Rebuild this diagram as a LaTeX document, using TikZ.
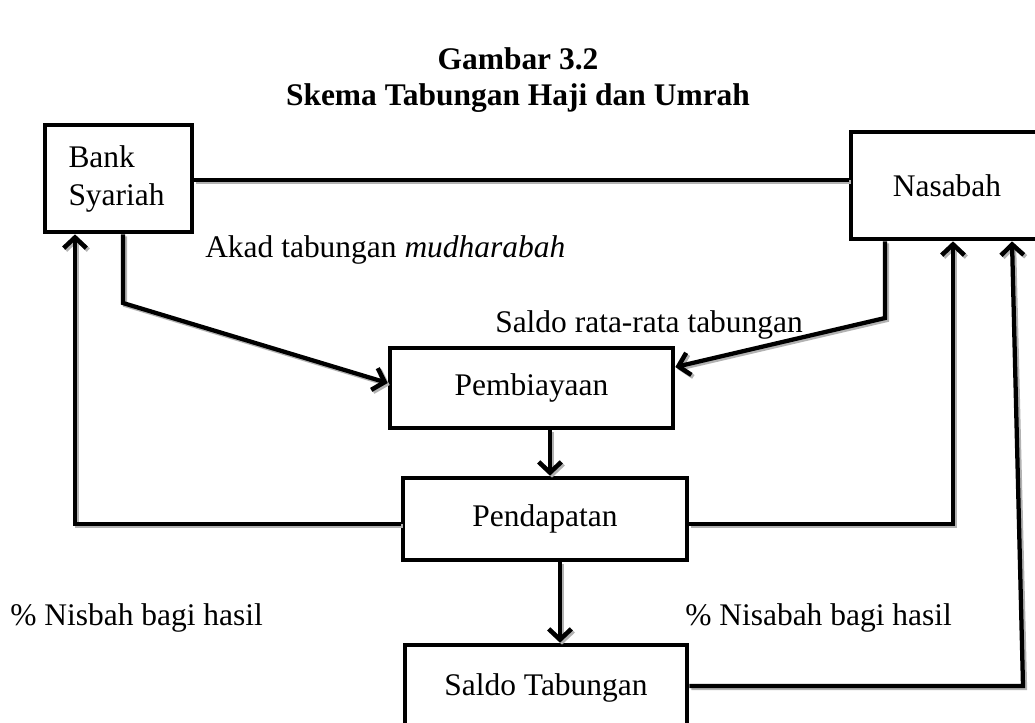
\documentclass[tikz,border=0pt]{standalone}
\usepackage{fontspec}
\setmainfont{Liberation Serif}
\usetikzlibrary{arrows.meta}
\begin{document}
\begin{tikzpicture}[x=0.75pt,y=-0.75pt,
  every node/.style={font=\fontsize{23.6pt}{28.5pt}\selectfont},
  box/.style={draw, line width=3.5pt, rectangle, inner sep=0pt, align=center, fill=white},
  link/.style={line width=3.2pt, line join=miter,
    preaction={draw=black!30, line width=3.2pt, transform canvas={shift={(2,2)}}}},
  arr/.style={link, -{Straight Barb[length=8pt,width=17pt,line width=3.4pt]}},
  lbl/.style={anchor=base west, inner sep=0pt},
  ttl/.style={anchor=base, inner sep=0pt, font=\bfseries\fontsize{23.6pt}{28.5pt}\selectfont}]
\useasboundingbox (0,0) rectangle (1035,722);

% title, two centred lines
\node[ttl] (title1) at (518,69) {Gambar 3.2};
\node[ttl] (title2) at (518,105) {Skema Tabungan Haji dan Umrah};

% boxes
\node[box, minimum width=110.25pt, minimum height=80.25pt, text width=75pt, align=left]
  (bank) at (118.5,178.5) {\raisebox{-3pt}{Bank}\\\raisebox{-3pt}{Syariah}};
\node[box, minimum width=144pt, minimum height=80.25pt] (nasabah) at (947,185.5) {Nasabah};
\node[box, minimum width=212.25pt, minimum height=60pt] (pemb) at (531.5,388) {Pembiayaan};
\node[box, minimum width=213pt, minimum height=61.5pt] (pend) at (545,519) {Pendapatan};
\node[box, minimum width=211.5pt, minimum height=63.75pt] (saldo) at (546,687.5) {Saldo Tabungan};

% bend points and connector rails
\coordinate (bk) at (123,303);
\coordinate (pl) at (0,383);
\coordinate (nk) at (885,318);
\coordinate (pr) at (0,367);
\coordinate (v1) at (550,0);
\coordinate (v2) at (560,0);
\coordinate (ly) at (0,524);
\coordinate (lx) at (75,0);
\coordinate (rx) at (953,0);
\coordinate (sy) at (0,686);
\coordinate (sc) at (1023,686);
\coordinate (ex) at (1012,0);

% connectors
\draw[link] (bank.east |- 0,180) -- (nasabah.west |- 0,180);
\draw[arr] (bank.south -| bk) -- (bk) -- (pemb.west |- pl);
\draw[arr] (nasabah.south -| nk) -- (nk) -- (pemb.east |- pr);
\draw[arr] (pemb.south -| v1) -- (pend.north -| v1);
\draw[arr] (pend.west |- ly) -- (ly -| lx) -- (bank.south -| lx);
\draw[arr] (pend.east |- ly) -- (ly -| rx) -- (nasabah.south -| rx);
\draw[arr] (pend.south -| v2) -- (saldo.north -| v2);
\draw[arr] (saldo.east |- sy) -- (sc) -- (nasabah.south -| ex);

% labels
\node[lbl] (akad) at (205,257) {Akad tabungan \textit{mudharabah}};
\node[lbl] (rata) at (495,332) {Saldo rata-rata tabungan};
\node[lbl] (nisl) at (10,625) {\% Nisbah bagi hasil};
\node[lbl] (nisr) at (685,625) {\% Nisabah bagi hasil};
\end{tikzpicture}
\end{document}
